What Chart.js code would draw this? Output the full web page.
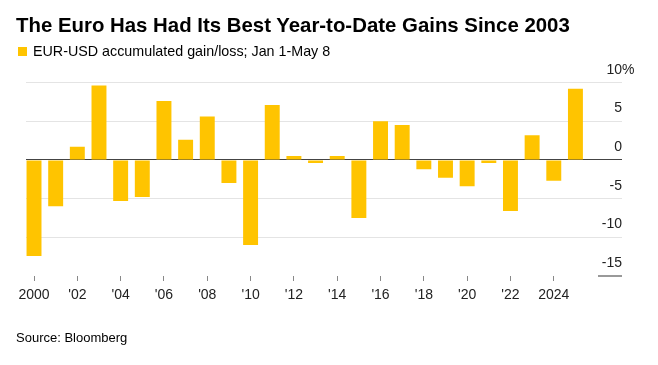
<!DOCTYPE html>
<html>
<head>
<meta charset="utf-8">
<script src="https://cdn.jsdelivr.net/npm/chart.js@4/dist/chart.umd.min.js"></script>
<style>
  html, body { margin: 0; padding: 0; background: #fff; }
  #wrap { position: relative; width: 658px; height: 365px; font-family: 'Liberation Sans', Arial, sans-serif; color: #000; }
  #title { position: absolute; left: 16px; top: 15.4px; font-size: 20.4px; line-height: 20.4px; font-weight: bold; white-space: nowrap; }
  #legend { position: absolute; left: 18px; top: 43.9px; font-size: 14.3px; line-height: 14.3px; white-space: nowrap; }
  #legend .swatch { position: absolute; left: 0; top: 3px; width: 9px; height: 9px; background: #ffc400; }
  #legend .label { position: absolute; left: 15px; top: 0; }
  #source { position: absolute; left: 16px; top: 330.7px; font-size: 13px; line-height: 13px; white-space: nowrap; }
  canvas { position: absolute; left: 0; top: 0; }
</style>
</head>
<body>
<div id="wrap">
  <canvas id="chart" width="658" height="365"></canvas>
  <div id="title">The Euro Has Had Its Best Year-to-Date Gains Since 2003</div>
  <div id="legend"><span class="swatch"></span><span class="label">EUR-USD accumulated gain/loss; Jan 1-May 8</span></div>
  <div id="source">Source: Bloomberg</div>
</div>
<script>
// ─── Data ─────────────────────────────────────────────────────────────────────
const years = [
  2000, 2001, 2002, 2003, 2004, 2005, 2006, 2007, 2008, 2009, 2010, 2011, 2012,
  2013, 2014, 2015, 2016, 2017, 2018, 2019, 2020, 2021, 2022, 2023, 2024, 2025,
];
const gains = [
  -12.4, -6.0, 1.7, 9.6, -5.3, -4.8, 7.6, 2.6, 5.6, -3.0, -11.0, 7.1, 0.5,
  -0.4, 0.5, -7.5, 5.0, 4.5, -1.2, -2.3, -3.4, -0.4, -6.6, 3.2, -2.7, 9.2,
];
const xTicks = [2000, 2002, 2004, 2006, 2008, 2010, 2012, 2014, 2016, 2018, 2020, 2022, 2024];
const yTicks = [-15, -10, -5, 0, 5, 10];

const FONT = 'Liberation Sans';
const BAR_COLOR = '#ffc400';

// Right-hand value labels sit just above their gridlines, "%" only on the top one
const yLabelPlugin = {
  id: 'yLabels',
  afterDraw(chart) {
    const { ctx, chartArea, scales: { y } } = chart;
    ctx.save();
    ctx.font = `14px "${FONT}"`;
    ctx.fillStyle = '#222';
    ctx.textBaseline = 'alphabetic';
    y.ticks.forEach(t => {
      const py = y.getPixelForValue(t.value);
      ctx.textAlign = 'right';
      ctx.fillText(String(t.value), chartArea.right, py - 9);
      if (t.value === yTicks[yTicks.length - 1]) {
        ctx.textAlign = 'left';
        ctx.fillText('%', chartArea.right, py - 9);
      }
    });
    // short marker under the bottom label
    const pb = Math.round(y.getPixelForValue(yTicks[0]));
    ctx.strokeStyle = '#999';
    ctx.lineWidth = 2;
    ctx.beginPath();
    ctx.moveTo(chartArea.right - 24, pb);
    ctx.lineTo(chartArea.right, pb);
    ctx.stroke();
    ctx.restore();
  },
};

new Chart(document.getElementById('chart').getContext('2d'), {
  type: 'bar',
  data: {
    datasets: [{
      label: 'EUR-USD accumulated gain/loss; Jan 1-May 8',
      data: years.map((x, i) => ({ x, y: gains[i] })),
      backgroundColor: BAR_COLOR,
      borderWidth: 0,
      categoryPercentage: 1,
      barPercentage: 0.69,
    }],
  },
  options: {
    responsive: false,
    animation: false,
    layout: { padding: { left: 26, right: 36, top: 82.5, bottom: 0 } },
    plugins: {
      legend: { display: false },
      tooltip: { enabled: false },
    },
    scales: {
      x: {
        type: 'linear',
        offset: false,
        min: 1999.63,
        max: 2027.15,
        afterBuildTicks: axis => { axis.ticks = xTicks.map(v => ({ value: v })); },
        afterFit: axis => { axis.height = 89; },
        grid: { offset: false, drawOnChartArea: false, drawTicks: true, tickLength: 5, tickColor: '#888', tickWidth: 1 },
        border: { display: false },
        ticks: {
          autoSkip: false,
          maxRotation: 0,
          padding: 6,
          color: '#222',
          font: { family: FONT, size: 14 },
          callback: v => (v === 2000 || v === 2024) ? String(v) : "'" + String(v).slice(2),
        },
      },
      y: {
        position: 'right',
        min: -15,
        max: 10,
        afterBuildTicks: axis => { axis.ticks = yTicks.map(v => ({ value: v })); },
        grid: {
          drawTicks: false,
          color: ctx => ctx.tick.value === 0 ? '#444' : (ctx.tick.value === -15 ? 'rgba(0,0,0,0)' : '#e4e4e4'),
          lineWidth: 1,
        },
        border: { display: false },
        ticks: { display: false },
      },
    },
  },
  plugins: [yLabelPlugin],
});
</script>
</body>
</html>
